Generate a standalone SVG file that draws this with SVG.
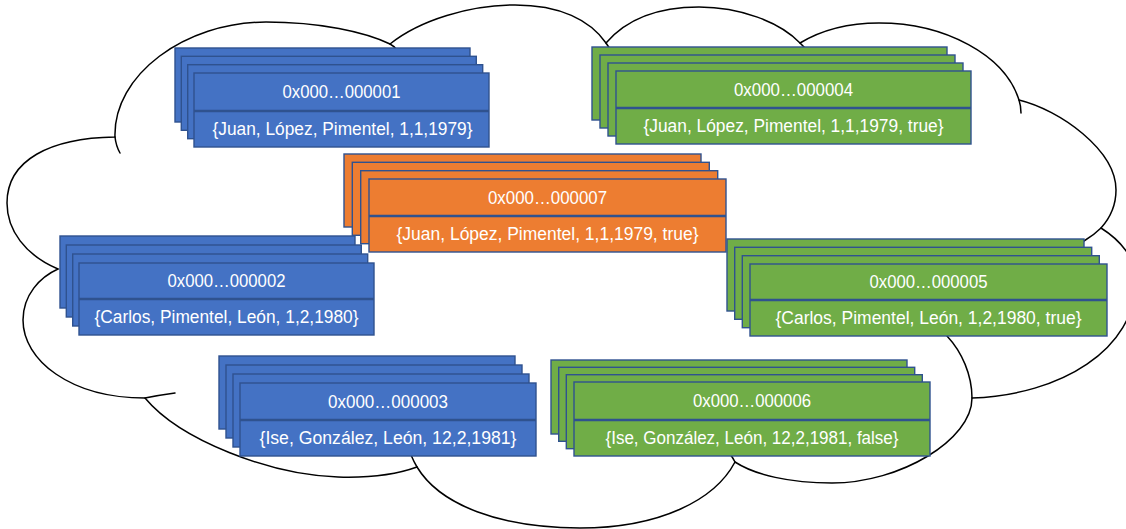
<svg xmlns="http://www.w3.org/2000/svg" width="1126" height="529" viewBox="0 0 1126 529">
<style>
.cl{fill:none;stroke:#000;stroke-width:1.5;stroke-linecap:round}
.cd{stroke:#2F528F;stroke-width:1.4}
.blue{fill:#4472C4}
.green{fill:#70AD47}
.orange{fill:#ED7D31}
.dv{stroke:#2F528F;stroke-width:2.6}
.t{font-family:"Liberation Sans",Arial,sans-serif;font-size:17.5px;fill:#fff;text-anchor:middle}
</style>
<rect x="0" y="0" width="1126" height="529" fill="#fff"/>
<g id="cloud">
<path class="cl" d="M115,137 C113,75 185,22 266,22 C320,22 365,32 390,44 C420,20 470,5 515,5 C560,5 590,20 606,43 C630,15 665,7 699,7 C740,7 780,22 800,43 C825,28 850,23 879,23 C945,23 1005,55 1019,100 C1060,110 1116,150 1116,190 C1116,205 1110,218 1101,228 C1120,240 1136,258 1136,280 C1136,350 1060,395 972,398 C972,440 900,483 832,483 C790,483 755,475 735,462 C715,500 660,528 580,528 C500,528 440,505 417,467 C395,475 370,478 338,477 C270,475 180,440 145,398 C70,398 23,360 23,320 C23,295 40,277 58,269 C25,255 7,230 7,203 C7,160 50,138 115,137 Z"/>
<path class="cl" d="M115,137 Q116,146 120,153"/>
<path class="cl" d="M390,44 Q394,46 397,50"/>
<path class="cl" d="M606,43 Q608,46 610,49"/>
<path class="cl" d="M800,43 Q802,45 805,48"/>
<path class="cl" d="M1019,100 Q1021,106 1021,113"/>
<path class="cl" d="M1101,228 Q1094,235 1084,241"/>
<path class="cl" d="M972,398 C972,375 962,352 947,336"/>
<path class="cl" d="M735,462 Q733,458 730,454"/>
<path class="cl" d="M417,467 Q414,462 411,455"/>
<path class="cl" d="M145,398 Q160,395 175,393"/>
</g>
<g id="connectors"/>
<g id="node1">
<rect class="cd blue" x="175" y="48" width="295" height="74"/>
<rect class="cd blue" x="181.3" y="56.3" width="295" height="74"/>
<rect class="cd blue" x="187.7" y="64.7" width="295" height="74"/>
<rect class="cd blue" x="194" y="73" width="295" height="74"/>
<line class="dv" x1="194" y1="111" x2="489" y2="111"/>
<text class="t" x="341.5" y="98" textLength="118" lengthAdjust="spacingAndGlyphs">0x000…000001</text>
<text class="t" x="342.5" y="135" textLength="260" lengthAdjust="spacingAndGlyphs">{Juan, López, Pimentel, 1,1,1979}</text>
</g>
<g id="node2">
<rect class="cd blue" x="60" y="236" width="295" height="72"/>
<rect class="cd blue" x="66.3" y="245" width="295" height="72"/>
<rect class="cd blue" x="72.7" y="254" width="295" height="72"/>
<rect class="cd blue" x="79" y="263" width="295" height="72"/>
<line class="dv" x1="79" y1="299" x2="374" y2="299"/>
<text class="t" x="226.5" y="287" textLength="118" lengthAdjust="spacingAndGlyphs">0x000…000002</text>
<text class="t" x="226.5" y="323" textLength="264" lengthAdjust="spacingAndGlyphs">{Carlos, Pimentel, León, 1,2,1980}</text>
</g>
<g id="node3">
<rect class="cd blue" x="219" y="356" width="296" height="73"/>
<rect class="cd blue" x="226" y="365" width="296" height="73"/>
<rect class="cd blue" x="233" y="374" width="296" height="73"/>
<rect class="cd blue" x="240" y="383" width="296" height="73"/>
<line class="dv" x1="240" y1="420" x2="536" y2="420"/>
<text class="t" x="388" y="407.5" textLength="120" lengthAdjust="spacingAndGlyphs">0x000…000003</text>
<text class="t" x="388" y="444" textLength="257" lengthAdjust="spacingAndGlyphs">{Ise, González, León, 12,2,1981}</text>
</g>
<g id="node4">
<rect class="cd green" x="592" y="47" width="355" height="73"/>
<rect class="cd green" x="600" y="55" width="355" height="73"/>
<rect class="cd green" x="608" y="63" width="355" height="73"/>
<rect class="cd green" x="616" y="71" width="355" height="73"/>
<line class="dv" x1="616" y1="108" x2="971" y2="108"/>
<text class="t" x="793.5" y="95.5" textLength="119" lengthAdjust="spacingAndGlyphs">0x000…000004</text>
<text class="t" x="793.5" y="132" textLength="300" lengthAdjust="spacingAndGlyphs">{Juan, López, Pimentel, 1,1,1979, true}</text>
</g>
<g id="node5">
<rect class="cd green" x="727" y="239" width="357" height="72"/>
<rect class="cd green" x="734.7" y="247.3" width="357" height="72"/>
<rect class="cd green" x="742.3" y="255.7" width="357" height="72"/>
<rect class="cd green" x="750" y="264" width="357" height="72"/>
<line class="dv" x1="750" y1="300" x2="1107" y2="300"/>
<text class="t" x="928.5" y="288" textLength="118" lengthAdjust="spacingAndGlyphs">0x000…000005</text>
<text class="t" x="928.5" y="324" textLength="306" lengthAdjust="spacingAndGlyphs">{Carlos, Pimentel, León, 1,2,1980, true}</text>
</g>
<g id="node6">
<rect class="cd green" x="551" y="360" width="356" height="74"/>
<rect class="cd green" x="558.7" y="367.3" width="356" height="74"/>
<rect class="cd green" x="566.3" y="374.7" width="356" height="74"/>
<rect class="cd green" x="574" y="382" width="356" height="74"/>
<line class="dv" x1="574" y1="420" x2="930" y2="420"/>
<text class="t" x="752" y="407" textLength="118" lengthAdjust="spacingAndGlyphs">0x000…000006</text>
<text class="t" x="752" y="444" textLength="293" lengthAdjust="spacingAndGlyphs">{Ise, González, León, 12,2,1981, false}</text>
</g>
<g id="node7">
<rect class="cd orange" x="344" y="154" width="357" height="73"/>
<rect class="cd orange" x="352.3" y="162.3" width="357" height="73"/>
<rect class="cd orange" x="360.7" y="170.7" width="357" height="73"/>
<rect class="cd orange" x="369" y="179" width="357" height="73"/>
<line class="dv" x1="369" y1="216" x2="726" y2="216"/>
<text class="t" x="547.5" y="203.5" textLength="119" lengthAdjust="spacingAndGlyphs">0x000…000007</text>
<text class="t" x="547.5" y="240" textLength="302" lengthAdjust="spacingAndGlyphs">{Juan, López, Pimentel, 1,1,1979, true}</text>
</g>
</svg>
